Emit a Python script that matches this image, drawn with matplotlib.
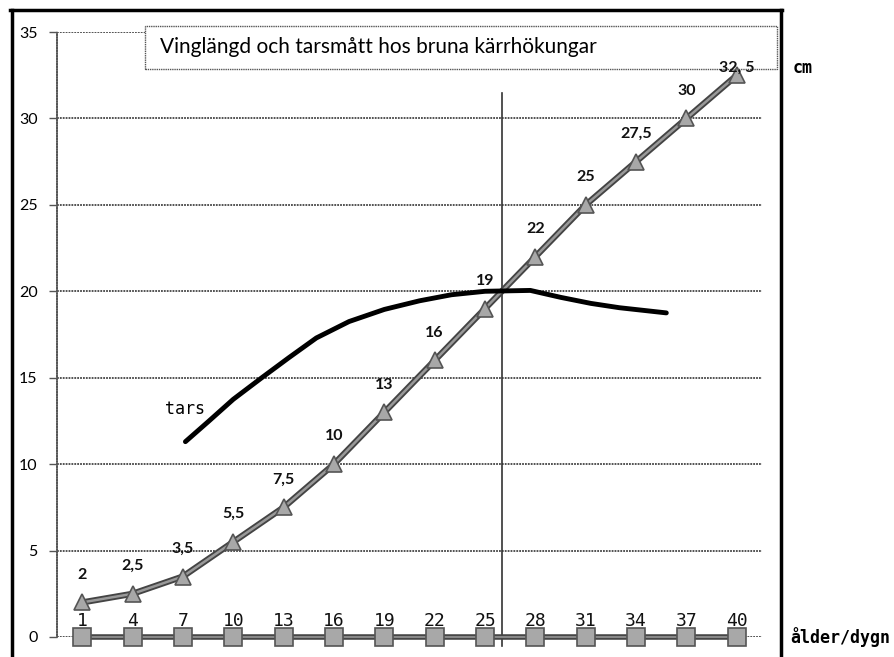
import matplotlib.pyplot as plt
from matplotlib.patches import Rectangle
from matplotlib.lines import Line2D

# alder i dygn
days = [1, 4, 7, 10, 13, 16, 19, 22, 25, 28, 31, 34, 37, 40]
# vinglangd (cm)
wing = [2, 2.5, 3.5, 5.5, 7.5, 10, 13, 16, 19, 22, 25, 27.5, 30, 32.5]
wing_labels = ['2', '2,5', '3,5', '5,5', '7,5', '10', '13', '16', '19',
               '22', '25', '27,5', '30', '32, 5']
base = [0] * len(days)
# handritad tarskurva
tars_days = [7.15, 8.5, 10.0, 11.7, 13.3, 14.95, 16.9, 19.0, 21.1, 23.0,
             25.0, 27.7, 29.5, 31.3, 33.0, 35.8]
tars_vals = [11.3, 12.45, 13.75, 15.0, 16.15, 17.3, 18.25, 18.95, 19.45, 19.8,
             20.0, 20.05, 19.65, 19.3, 19.05, 18.75]
marker_day = 26
marker_top = 31.5

fig = plt.figure(figsize=(8.95, 6.57), dpi=100)
ax = fig.add_axes([57 / 895, 1 - 637 / 657, 705 / 895, 605 / 657])
ax.set_xlim(-0.5, 41.5)
ax.set_ylim(0, 35)

for s in ['top', 'right', 'bottom']:
    ax.spines[s].set_visible(False)
ax.spines['left'].set_linestyle((0, (1, 0.6)))
ax.spines['left'].set_color('#555555')
ax.spines['left'].set_linewidth(1.2)

ax.set_yticks(range(0, 36, 5))
ax.set_xticks([])
ax.tick_params(axis='y', length=6, width=1, color='#555555', pad=8,
               labelsize=11.5)
for lab in ax.get_yticklabels():
    lab.set_family('Lato')
ax.grid(axis='y', linestyle=(0, (1, 0.6)), color='#444444', linewidth=1.3)
ax.set_axisbelow(True)

# titelruta (over rutnatet, under serierna)
ax.add_patch(Rectangle((145 / 895, 1 - 69 / 657), 632 / 895, 43 / 657,
                       transform=fig.transFigure, facecolor='white',
                       edgecolor='#555555', lw=1, linestyle=(0, (1, 0.6)),
                       zorder=1.5, clip_on=False))
ax.text(160 / 895, 1 - 47 / 657, 'Vinglängd och tarsmått hos bruna kärrhökungar',
        transform=fig.transFigure, fontsize=15, family='Lato', va='center',
        ha='left', zorder=1.6)

# vertikal referenslinje
ax.plot([marker_day, marker_day], [-0.5, marker_top], color='#333333',
        lw=1.2, clip_on=False, zorder=2)

# baslinje med kvadrater
ax.plot(days, base, color='#444444', lw=4, zorder=3, clip_on=False)
ax.plot(days, base, color='#888888', lw=1.5, zorder=3, clip_on=False)
ax.plot(days, base, ls='none', marker='s', markersize=12.5,
        markerfacecolor='#a8a8a8', markeredgecolor='#555555',
        markeredgewidth=1.2, zorder=4, clip_on=False)
for d in days:
    ax.annotate(str(d), (d, 0), xytext=(0, 5), textcoords='offset points',
                ha='center', va='bottom', fontsize=13,
                family='DejaVu Sans Mono', color='#111111', zorder=5)

# vinglangd
ax.plot(days, wing, color='#444444', lw=4.5, zorder=3, clip_on=False)
ax.plot(days, wing, color='#999999', lw=1.8, zorder=3, clip_on=False)
ax.plot(days, wing, ls='none', marker='^', markersize=12,
        markerfacecolor='#a8a8a8', markeredgecolor='#555555',
        markeredgewidth=1.2, zorder=4, clip_on=False)
for i, (d, w) in enumerate(zip(days, wing)):
    dy = 5 if i == len(days) - 1 else 20
    ax.annotate(wing_labels[i], (d, w), xytext=(0, dy),
                textcoords='offset points', ha='center', va='center',
                fontsize=11.5, family='Lato', fontweight='bold',
                color='#111111', zorder=5)

# tars
ax.plot(tars_days, tars_vals, color='black', lw=3.5, solid_capstyle='round',
        solid_joinstyle='round', zorder=3)
fig.text(165 / 895, 1 - 409 / 657, 'tars', fontsize=12,
         family='DejaVu Sans Mono', va='center', ha='left')

# ram
for xs, ys in [([12, 12], [657, 10]), ([10, 782], [10, 10]),
               ([781, 781], [10, 657])]:
    fig.lines.append(Line2D([x / 895 for x in xs], [1 - y / 657 for y in ys],
                            transform=fig.transFigure, color='black', lw=2.5))

fig.text(793 / 895, 1 - 68 / 657, 'cm', fontsize=12,
         family='DejaVu Sans Mono', fontweight='bold', va='center', ha='left')
fig.text(790 / 895, 1 - 637 / 657, 'ålder/dygn', fontsize=12,
         family='DejaVu Sans Mono', fontweight='bold', va='center', ha='left')

fig.savefig('out.png', dpi=100)
